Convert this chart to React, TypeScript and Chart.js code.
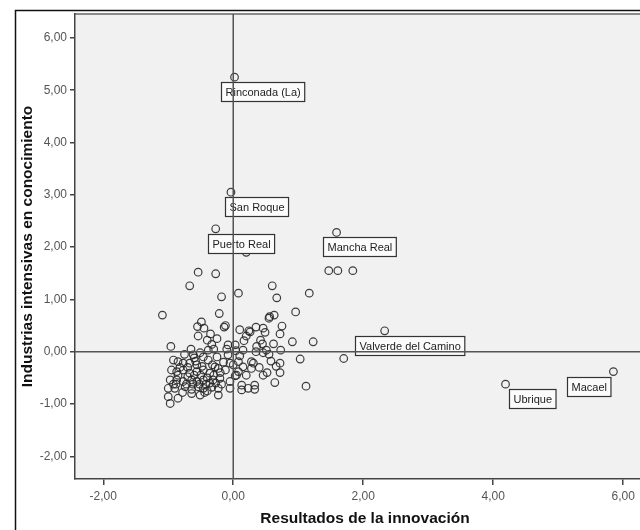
import React, { useEffect, useRef } from "react";
import { Chart, registerables } from "chart.js";

Chart.register(...registerables);

// ---- Data ----
const pointX: number[] = [
  1.47, 1.61, 1.84, 1.17, -0.54, -0.27, -0.67, -0.18, 0.08, 0.6, 0.67, 0.2,
  -1.09, -0.96, -0.215, -0.49, -0.55, -0.14, -0.12, -0.54, -0.35, -0.4, -0.33, -0.65, -0.51, -0.385,
  0.24, 0.35, 0.46, 0.55, 0.63, 0.75, 0.72, 0.96, 0.91, 1.23, 1.03, 1.12, 1.7,
  0.64, 0.46, 0.72, 0.66, 0.58, 0.73, 0.51, 0.36, 0.42, 0.46, 0.35, 0.165, 0.03, -0.08, 0.15, 0.04,
  -0.08, -0.05, 0.08, 0.15, 0.28, 0.31, 0.05, -0.05, 0.13, 0.23, 0.33, 0.33, 0.13,
  0.26, 0.49, 0.03, 0.08, 0.72, 0.28, 0.56,
  -0.615, -0.46, -0.385, -0.92, -0.85, -0.77, -0.67, -0.56, -0.28, -0.23, -0.95, -0.87, -0.77,
  -0.67, -0.56, -0.46, -0.36, -0.97, -0.87, -0.77, -0.64, -0.56, -0.46, -0.31, -0.205, -1.0,
  -0.9, -0.74, -0.64, -0.54, -0.46, -0.33, -0.23, -0.64, -0.51, -0.23, -1.0, -0.85, -0.97,
  -0.05, -0.3, -0.42, -0.7, -0.6, -0.5, -0.82, -0.25, -0.15, -0.1, -0.32, -0.4, -0.78, -0.88,
  -0.75, -0.58, -0.48, -0.4, -0.62, -0.7, -0.52, -0.36, -0.27, -0.44, -0.6, -0.85, -0.92, -0.18,
  -0.2, -0.12, 0.0, 0.1, 0.2, 0.4, 0.52, 0.45, 0.2, 0.62, -0.3, -0.45, -0.25, 0.1, 0.55, -0.72,
];
const pointY: number[] = [
  1.55, 1.55, 1.55, 1.12, 1.52, 1.49, 1.26, 1.05, 1.12, 1.26, 1.03, 1.9,
  0.7, 0.1, 0.73, 0.57, 0.48, 0.47, 0.5, 0.3, 0.34, 0.22, 0.14, 0.05, -0.02, 0.03,
  0.4, 0.47, 0.45, 0.64, 0.7, 0.49, 0.34, 0.76, 0.19, 0.19, -0.14, -0.66, -0.13,
  -0.59, -0.45, -0.4, -0.28, -0.18, 0.03, 0.03, 0.1, 0.22, -0.02, 0.0, 0.21, 0.13, 0.13, 0.03, 0.02,
  -0.06, -0.22, -0.19, -0.29, -0.32, -0.22, -0.45, -0.57, -0.64, -0.7, -0.64, -0.72, -0.73,
  0.38, 0.37, -0.46, -0.38, -0.22, -0.19, 0.67,
  -0.06, -0.1, -0.16, -0.16, -0.19, -0.22, -0.22, -0.25, -0.29, -0.32, -0.35, -0.38, -0.35,
  -0.41, -0.38, -0.35, -0.41, -0.54, -0.54, -0.57, -0.54, -0.57, -0.54, -0.54, -0.51, -0.7,
  -0.7, -0.67, -0.72, -0.67, -0.7, -0.68, -0.7, -0.8, -0.83, -0.83, -0.86, -0.89, -0.99,
  -0.7, -0.45, -0.62, -0.48, -0.12, -0.45, -0.3, -0.1, -0.2, 0.05, -0.25, -0.75, -0.78, -0.62,
  -0.05, -0.18, -0.28, -0.5, -0.62, -0.3, -0.62, -0.6, -0.6, -0.78, -0.45, -0.45, -0.62, -0.62,
  -0.4, -0.35, -0.25, -0.08, -0.45, -0.3, -0.4, 0.15, 0.3, 0.15, 0.05, 0.45, 0.25, 0.42, -0.05, -0.62,
];

const labelNames: string[] = [
  "Rinconada (La)",
  "San Roque",
  "Puerto Real",
  "Mancha Real",
  "Valverde del Camino",
  "Ubrique",
  "Macael",
];
const labelX: number[] = [0.02, -0.035, -0.27, 1.59, 2.33, 4.19, 5.85];
const labelY: number[] = [5.25, 3.05, 2.35, 2.28, 0.4, -0.62, -0.38];

const xTicks: number[] = [-2, 0, 2, 4, 6];
const yTicks: number[] = [-2, -1, 0, 1, 2, 3, 4, 5, 6];

const xTitle = "Resultados de la innovación";
const yTitle = "Industrias intensivas en conocimiento";

// ---- Layout / style (not data) ----
const labelBoxDx: number[] = [-14, -6, -8, -14, -30, 3, -46];
const fmt = (v: number) => v.toFixed(2).replace(".", ",");
const FONT = '"Liberation Sans", Arial, sans-serif';

const decorPlugin = {
  id: "decor",
  beforeDraw(chart: any) {
    const { ctx, chartArea } = chart;
    ctx.save();
    ctx.fillStyle = "#ffffff";
    ctx.fillRect(0, 0, chart.width, chart.height);
    ctx.strokeStyle = "#111";
    ctx.lineWidth = 1.5;
    ctx.beginPath();
    ctx.moveTo(15.5, chart.height + 2);
    ctx.lineTo(15.5, 10.5);
    ctx.lineTo(chart.width + 2, 10.5);
    ctx.stroke();
    ctx.fillStyle = "#f1f1f1";
    ctx.fillRect(chartArea.left, chartArea.top, chartArea.right - chartArea.left, chartArea.bottom - chartArea.top);
    ctx.strokeStyle = "#8a8a8a";
    ctx.lineWidth = 2;
    ctx.beginPath();
    ctx.moveTo(chartArea.left, chartArea.top);
    ctx.lineTo(chartArea.right, chartArea.top);
    ctx.stroke();
    ctx.restore();
  },
  afterDatasetsDraw(chart: any) {
    const { ctx, chartArea, scales } = chart;
    const xs = scales.x;
    const ys = scales.y;
    ctx.save();
    ctx.font = "11px " + FONT;
    ctx.textBaseline = "middle";
    ctx.textAlign = "left";
    for (let i = 0; i < labelNames.length; i++) {
      const px = xs.getPixelForValue(labelX[i]);
      const py = ys.getPixelForValue(labelY[i]);
      const w = ctx.measureText(labelNames[i]).width + 8;
      const h = 19;
      const bx = Math.round(px + labelBoxDx[i]) + 0.5;
      const by = Math.round(py + 5) + 0.5;
      ctx.fillStyle = "#fbfbfb";
      ctx.fillRect(bx, by, w, h);
      ctx.strokeStyle = "#333";
      ctx.lineWidth = 1.2;
      ctx.strokeRect(bx, by, w, h);
      ctx.fillStyle = "#222";
      ctx.fillText(labelNames[i], bx + 4, by + h / 2 + 0.5);
    }
    const x0 = xs.getPixelForValue(0);
    const y0 = ys.getPixelForValue(0);
    ctx.strokeStyle = "#555";
    ctx.lineWidth = 1.5;
    ctx.beginPath();
    ctx.moveTo(x0, chartArea.top);
    ctx.lineTo(x0, chartArea.bottom);
    ctx.moveTo(chartArea.left, y0);
    ctx.lineTo(chartArea.right, y0);
    ctx.stroke();
    ctx.restore();
  },
  afterDraw(chart: any) {
    const { ctx, chartArea } = chart;
    ctx.save();
    ctx.fillStyle = "#111";
    ctx.font = "bold 15.5px " + FONT;
    ctx.textAlign = "center";
    ctx.textBaseline = "middle";
    ctx.fillText(xTitle, (chartArea.left + chartArea.right) / 2, 519);
    ctx.translate(28, (chartArea.top + chartArea.bottom) / 2);
    ctx.rotate(-Math.PI / 2);
    ctx.fillText(yTitle, 0, 0);
    ctx.restore();
  },
};

export default function App() {
  const ref = useRef<HTMLCanvasElement | null>(null);
  useEffect(() => {
    if (!ref.current) return;
    const data = pointX.map((x, i) => ({ x, y: pointY[i] }));
    const labeled = labelX.map((x, i) => ({ x, y: labelY[i] }));
    const chart = new Chart(ref.current, {
      type: "scatter",
      data: {
        datasets: [
          {
            data: [...data, ...labeled],
            pointRadius: 3.8,
            pointBorderWidth: 1.2,
            pointBorderColor: "rgba(40,40,40,0.9)",
            pointBackgroundColor: "rgba(0,0,0,0)",
            pointHoverRadius: 3.8,
          },
        ],
      },
      options: {
        animation: false,
        responsive: false,
        events: [],
        layout: { padding: { top: 14, left: 0, right: 5, bottom: 0 } },
        plugins: { legend: { display: false }, tooltip: { enabled: false } },
        scales: {
          x: {
            type: "linear",
            min: -2.435,
            max: 6.49,
            afterBuildTicks: (s: any) => {
              s.ticks = xTicks.map((v) => ({ value: v }));
            },
            afterFit: (s: any) => {
              s.height = 51;
            },
            grid: { display: true, drawOnChartArea: false, drawTicks: true, tickLength: 6, color: "#444", lineWidth: 1.5 },
            border: { display: true, color: "#444", width: 1.5 },
            ticks: {
              padding: 4,
              color: "#555",
              font: { family: FONT, size: 12 },
              callback: (v: any) => fmt(Number(v)),
              maxRotation: 0,
            },
          },
          y: {
            type: "linear",
            min: -2.434,
            max: 6.457,
            afterBuildTicks: (s: any) => {
              s.ticks = yTicks.map((v) => ({ value: v }));
            },
            afterFit: (s: any) => {
              s.width = 75;
            },
            grid: { display: true, drawOnChartArea: false, drawTicks: true, tickLength: 5, color: "#444", lineWidth: 1.5 },
            border: { display: true, color: "#444", width: 1.5 },
            ticks: {
              padding: 3,
              color: "#555",
              font: { family: FONT, size: 12 },
              callback: (v: any) => fmt(Number(v)),
            },
          },
        },
      },
      plugins: [decorPlugin],
    });
    return () => chart.destroy();
  }, []);
  return (
    <div style={{ position: "fixed", left: 0, top: 0, width: 640, height: 530, overflow: "hidden", background: "#fff" }}>
      <canvas ref={ref} width={660} height={530} style={{ display: "block" }} />
    </div>
  );
}
